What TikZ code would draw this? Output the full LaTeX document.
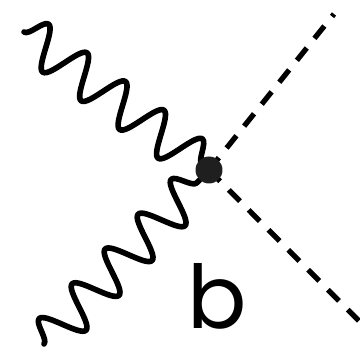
\documentclass[tikz,border=0pt]{standalone}
\usepackage{fontspec}
\setsansfont{Poppins}
\usepackage{tikz}
\usetikzlibrary{decorations.pathmorphing}
\tikzset{
  photon/.style={draw=black, line width=3.2pt, line join=round, line cap=round,
                 decorate, decoration={snake, segment length=0.96cm, amplitude=0.42cm}},
  scalar/.style={draw=black, line width=3pt, dash pattern=on 9pt off 7pt},
  vertexdot/.style={circle, fill=black!88, inner sep=0pt, minimum size=0.54cm},
}

\begin{document}
\begin{tikzpicture}[x=0.02cm, y=-0.02cm]
  \useasboundingbox (0,0) rectangle (360,358);
  \coordinate (p1) at (24,32);
  \coordinate (p2) at (44,344);
  \coordinate (s1) at (334,14);
  \coordinate (s2) at (362,324);
  \coordinate (v)  at (209,170);
  \draw[scalar] (v) -- (s1);
  \draw[scalar] (v) -- (s2);
  \draw[photon] (p1) -- (v);
  \draw[photon] (p2) -- (v);
  \node[vertexdot] (dot) at (v) {};
  \node[font=\sffamily\fontsize{50}{50}\selectfont] (lab) at (217,296) {b};
\end{tikzpicture}
\end{document}
